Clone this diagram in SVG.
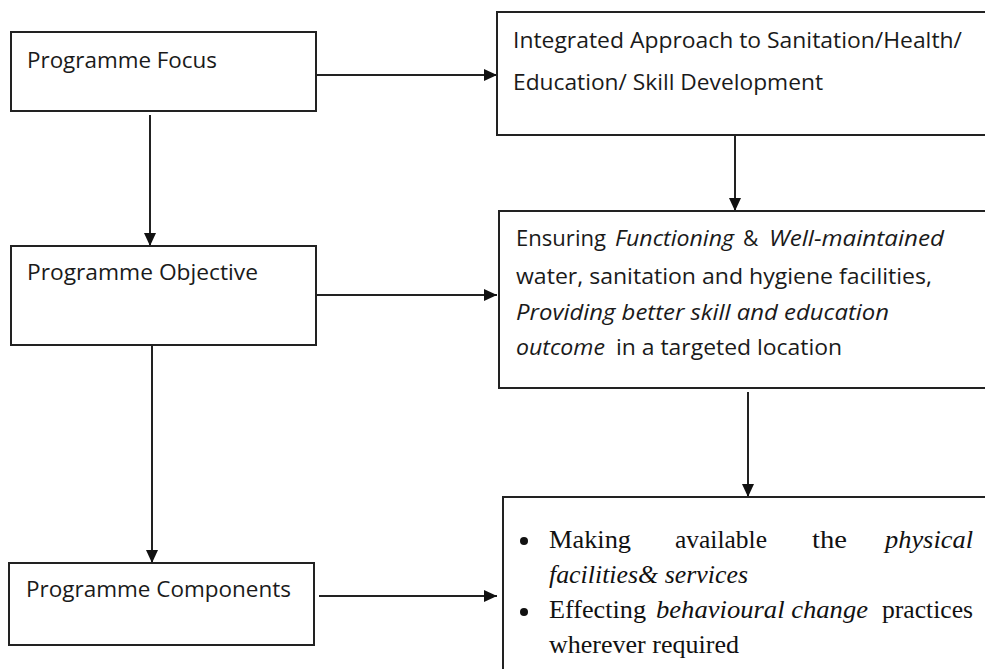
<svg xmlns="http://www.w3.org/2000/svg" width="985" height="669" viewBox="0 0 985 669">
<defs>
<marker id="ah" markerWidth="13" markerHeight="12" refX="13" refY="6" orient="auto" markerUnits="userSpaceOnUse">
<path d="M0,0 L13,6 L0,12 Z" fill="#111"/>
</marker>
<style>
.box{fill:#fff;stroke:#222;stroke-width:2}
.conn{stroke:#222;stroke-width:2;fill:none}
.sans{font-family:"Open Sans","Noto Sans","Liberation Sans",sans-serif;fill:#1a1a1a}
.l{font-size:22px}
.r{font-size:21px}
.serif{font-family:"Liberation Serif","Times New Roman",serif;font-size:25px;fill:#111}
.it{font-style:italic}
</style>
</defs>
<rect width="985" height="669" fill="#fff"/>
<g id="connectors">
<line class="conn" x1="317" y1="75" x2="497" y2="75" marker-end="url(#ah)"/>
<line class="conn" x1="150" y1="115" x2="150" y2="246" marker-end="url(#ah)"/>
<line class="conn" x1="317" y1="295" x2="497" y2="295" marker-end="url(#ah)"/>
<line class="conn" x1="735" y1="135" x2="735" y2="211" marker-end="url(#ah)"/>
<line class="conn" x1="152" y1="345" x2="152" y2="563" marker-end="url(#ah)"/>
<line class="conn" x1="748" y1="392" x2="748" y2="497" marker-end="url(#ah)"/>
<line class="conn" x1="319" y1="596" x2="497" y2="596" marker-end="url(#ah)"/>
</g>
<g id="focus">
<rect class="box" x="11" y="32" width="305" height="79"/>
<text class="sans l" x="27" y="68" textLength="190" lengthAdjust="spacingAndGlyphs">Programme Focus</text>
</g>
<g id="objective">
<rect class="box" x="11" y="246" width="305" height="99"/>
<text class="sans l" x="27" y="280" textLength="231" lengthAdjust="spacingAndGlyphs">Programme Objective</text>
</g>
<g id="components">
<rect class="box" x="9" y="563" width="305" height="82"/>
<text class="sans l" x="26" y="597" textLength="265" lengthAdjust="spacingAndGlyphs">Programme Components</text>
</g>
<g id="approach">
<rect class="box" x="497" y="12" width="500" height="123"/>
<text class="sans r" x="513" y="48" textLength="449" lengthAdjust="spacingAndGlyphs">Integrated Approach to Sanitation/Health/</text>
<text class="sans r" x="513" y="90" textLength="310" lengthAdjust="spacingAndGlyphs">Education/ Skill Development</text>
</g>
<g id="ensuring">
<rect class="box" x="499" y="211" width="500" height="177"/>
<text class="sans r" x="516" y="246" textLength="90" lengthAdjust="spacingAndGlyphs">Ensuring</text>
<text class="sans r it" x="615" y="246" textLength="119" lengthAdjust="spacingAndGlyphs">Functioning</text>
<text class="sans r" x="743" y="246">&amp;</text>
<text class="sans r it" x="769" y="246" textLength="175" lengthAdjust="spacingAndGlyphs">Well-maintained</text>
<text class="sans r" x="516" y="284" textLength="416" lengthAdjust="spacingAndGlyphs">water, sanitation and hygiene facilities,</text>
<text class="sans r it" x="516" y="320" textLength="373" lengthAdjust="spacingAndGlyphs">Providing better skill and education</text>
<text class="sans r it" x="516" y="355" textLength="89" lengthAdjust="spacingAndGlyphs">outcome</text>
<text class="sans r" x="616" y="355" textLength="226" lengthAdjust="spacingAndGlyphs">in a targeted location</text>
</g>
<g id="components-detail">
<rect class="box" x="503" y="497" width="500" height="200"/>
<circle cx="524" cy="541" r="4" fill="#111"/>
<circle cx="524" cy="612" r="4" fill="#111"/>
<text class="serif" x="549" y="548" textLength="82" lengthAdjust="spacingAndGlyphs">Making</text>
<text class="serif" x="675" y="548" textLength="92" lengthAdjust="spacingAndGlyphs">available</text>
<text class="serif" x="812" y="548" textLength="35" lengthAdjust="spacingAndGlyphs">the</text>
<text class="serif it" x="885" y="548" textLength="88" lengthAdjust="spacingAndGlyphs">physical</text>
<text class="serif it" x="549" y="583" textLength="199" lengthAdjust="spacingAndGlyphs">facilities&amp; services</text>
<text class="serif" x="549" y="618" textLength="97" lengthAdjust="spacingAndGlyphs">Effecting</text>
<text class="serif it" x="656" y="618" textLength="212" lengthAdjust="spacingAndGlyphs">behavioural change</text>
<text class="serif" x="882" y="618" textLength="91" lengthAdjust="spacingAndGlyphs">practices</text>
<text class="serif" x="549" y="653" textLength="190" lengthAdjust="spacingAndGlyphs">wherever required</text>
</g>
</svg>
